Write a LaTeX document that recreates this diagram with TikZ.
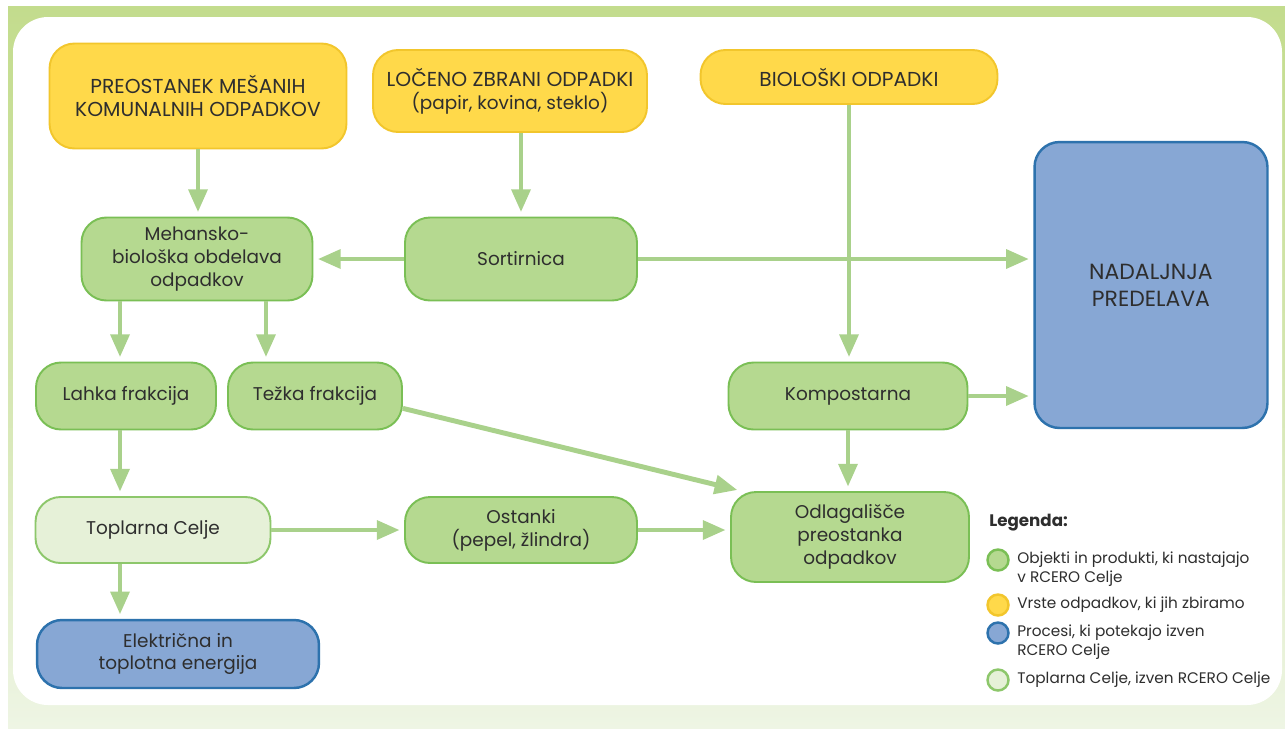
\documentclass[tikz,border=0pt]{standalone}
\usepackage{fontspec}
\setmainfont{Poppins}
\usetikzlibrary{arrows.meta}

\definecolor{okvir}{HTML}{C3DC8D}
\definecolor{okvirsv}{HTML}{EEF5E4}
\definecolor{rumenaf}{HTML}{FFD94A}
\definecolor{rumenar}{HTML}{F2C62C}
\definecolor{zelenaf}{HTML}{B5D990}
\definecolor{zelenar}{HTML}{7ABF55}
\definecolor{svetlaf}{HTML}{E6F1D8}
\definecolor{svetlar}{HTML}{8DC76B}
\definecolor{modraf}{HTML}{87A7D4}
\definecolor{modrar}{HTML}{2D72AD}
\definecolor{puscicab}{HTML}{A9D18B}
\definecolor{besedilo}{HTML}{2E2E2E}

\newcommand{\velike}{\fontsize{11.5}{13.6}\selectfont}

\begin{document}
\begin{tikzpicture}[x=0.02cm,y=-0.02cm,
		box/.style={rounded corners=0.5cm, align=center, line width=1.1pt, text=besedilo, inner sep=0pt, font=\fontsize{10.5}{13}\selectfont},
		rumena/.style={box, fill=rumenaf, draw=rumenar},
		zelena/.style={box, fill=zelenaf, draw=zelenar},
		svetla/.style={box, fill=svetlaf, draw=svetlar},
		modra/.style={box, fill=modraf, draw=modrar, line width=1.4pt},
		puscica/.style={draw=puscicab, line width=2.8pt, -{Triangle[width=10.5pt,length=13pt]}, shorten >=2.5pt},
		krog/.style={circle, minimum size=0.42cm, inner sep=0pt, line width=1.4pt},
		opis/.style={anchor=west, align=left, text=besedilo, inner sep=0pt, font=\fontsize{8.7}{11}\selectfont}]
	\useasboundingbox (0,0) rectangle (1285,728);
	% ozadje
	\fill[white] (0,0) rectangle (1285,728);
	\shade[top color=okvir, bottom color=okvirsv, middle color=okvir!60!okvirsv] (8,6) rectangle (1285,728);
	\fill[white, rounded corners=0.7cm] (13,17) rectangle (1282,705);

	% vrste odpadkov
	\node[rumena, minimum width=5.94cm, minimum height=2.1cm, font=\velike] (mesani) at (198,96) {PREOSTANEK MEŠANIH\\KOMUNALNIH ODPADKOV};
	\node[rumena, minimum width=5.48cm, minimum height=1.64cm] (loceni) at (510,91) {{\velike LOČENO ZBRANI ODPADKI}\\(papir, kovina, steklo)};
	\node[rumena, minimum width=5.94cm, minimum height=1.08cm, font=\velike] (bioloski) at (849,77) {BIOLOŠKI ODPADKI};

	% objekti
	\node[modra, minimum width=4.66cm, minimum height=5.72cm, font=\fontsize{12.5}{15.5}\selectfont] (predelava) at (1151,285) {NADALJNJA\\PREDELAVA};
	\node[zelena, minimum width=4.62cm, minimum height=1.66cm] (mbo) at (197,259) {Mehansko-\\biološka obdelava\\odpadkov};
	\node[zelena, minimum width=4.64cm, minimum height=1.66cm] (sortirnica) at (521,259) {Sortirnica};
	\node[zelena, minimum width=3.6cm, minimum height=1.34cm] (lahka) at (126,396) {Lahka frakcija};
	\node[zelena, minimum width=3.48cm, minimum height=1.34cm] (tezka) at (315,396) {Težka frakcija};
	\node[zelena, minimum width=4.78cm, minimum height=1.34cm] (kompost) at (848,396) {Kompostarna};
	\node[svetla, minimum width=4.7cm, minimum height=1.32cm] (toplarna) at (153,530) {Toplarna Celje};
	\node[zelena, minimum width=4.64cm, minimum height=1.32cm] (ostanki) at (521,530) {Ostanki\\(pepel, žlindra)};
	\node[zelena, minimum width=4.76cm, minimum height=1.8cm] (odlag) at (850,537) {Odlagališče\\preostanka\\odpadkov};
	\node[modra, minimum width=5.64cm, minimum height=1.36cm] (energija) at (178,654) {Električna in\\toplotna energija};

	% puscice
	\draw[puscica] (mesani.south) -- (mesani.south |- mbo.north);
	\draw[puscica] (sortirnica.north |- loceni.south) -- (sortirnica.north);
	\draw[puscica] (bioloski.south) -- (bioloski.south |- kompost.north);
	\draw[puscica] (sortirnica.west) -- (sortirnica.west -| mbo.east);
	\draw[puscica] (sortirnica.east) -- (sortirnica.east -| predelava.west);
	\draw[puscica] ([xshift=-1.54cm]mbo.south) -- ([xshift=-1.54cm]mbo.south |- lahka.north);
	\draw[puscica] ([xshift=1.38cm]mbo.south) -- ([xshift=1.38cm]mbo.south |- tezka.north);
	\draw[puscica] ([xshift=-0.12cm]lahka.south) -- ([xshift=-0.12cm]lahka.south |- toplarna.north);
	\draw[puscica] (tezka.-8) -- (odlag.157);
	\draw[puscica] (kompost.east) -- (kompost.east -| predelava.west);
	\draw[puscica] (kompost.south) -- (kompost.south |- odlag.north);
	\draw[puscica] (toplarna.east) -- (ostanki.west);
	\draw[puscica] (ostanki.east) -- (ostanki.east -| odlag.west);
	\draw[puscica] ([xshift=-0.66cm]toplarna.south) -- ([xshift=-0.66cm]toplarna.south |- energija.north);

	% legenda
	\node[opis, font=\fontsize{9.5}{11}\selectfont\bfseries] (legenda) at (989,523) {Legenda:};
	\node[krog, fill=zelenaf, draw=zelenar] (k1) at (998,560) {};
	\node[opis] (o1) at (1017,569) {Objekti in produkti, ki nastajajo\\v RCERO Celje};
	\node[krog, fill=rumenaf, draw=rumenar] (k2) at (998,605) {};
	\node[opis] (o2) at (1017,605) {Vrste odpadkov, ki jih zbiramo};
	\node[krog, fill=modraf, draw=modrar] (k3) at (998,633) {};
	\node[opis] (o3) at (1017,642) {Procesi, ki potekajo izven\\RCERO Celje};
	\node[krog, fill=svetlaf, draw=svetlar] (k4) at (998,680) {};
	\node[opis] (o4) at (1017,680) {Toplarna Celje, izven RCERO Celje};
\end{tikzpicture}
\end{document}
